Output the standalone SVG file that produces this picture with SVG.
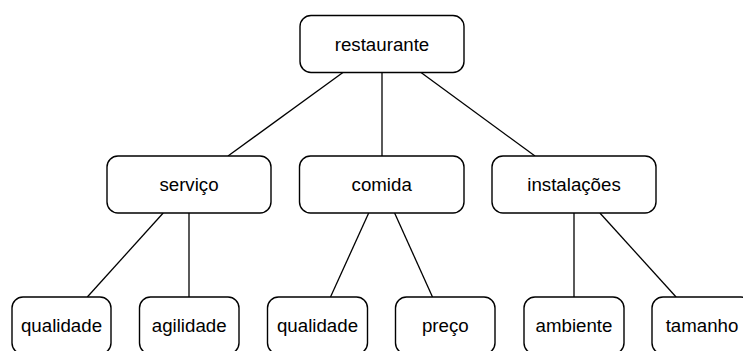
<svg xmlns="http://www.w3.org/2000/svg" width="743" height="351" viewBox="0 0 743 351">
<style>
.box{fill:#fff;stroke:#000;stroke-width:1.4}
.lbl{font-family:"Liberation Sans",Arial,sans-serif;font-size:18.7px;fill:#000;text-anchor:middle}
.edge{stroke:#000;stroke-width:1.3;fill:none}
</style>
<rect width="743" height="351" fill="#fff"/>
<g id="connectors">
<line class="edge" x1="342.9" y1="72.5" x2="228" y2="156"/>
<line class="edge" x1="382" y1="72.5" x2="382" y2="156"/>
<line class="edge" x1="421" y1="72.5" x2="535" y2="156"/>
<line class="edge" x1="163.2" y1="213" x2="87.3" y2="297"/>
<line class="edge" x1="189" y1="213" x2="189" y2="297"/>
<line class="edge" x1="368.7" y1="213" x2="330.5" y2="297"/>
<line class="edge" x1="394.6" y1="213" x2="432.5" y2="297"/>
<line class="edge" x1="574" y1="213" x2="574" y2="297"/>
<line class="edge" x1="599.9" y1="213" x2="676.1" y2="297"/>
</g>
<g id="restaurante"><rect class="box" x="300" y="15.5" width="164" height="57" rx="11"/><text class="lbl" x="382" y="50.5">restaurante</text></g>
<g id="servico"><rect class="box" x="107" y="156" width="164" height="57" rx="11"/><text class="lbl" x="189" y="190.8">serviço</text></g>
<g id="comida"><rect class="box" x="299.5" y="156" width="164.5" height="57" rx="11"/><text class="lbl" x="381.7" y="190.8">comida</text></g>
<g id="instalacoes"><rect class="box" x="492" y="156" width="164" height="57" rx="11"/><text class="lbl" x="574" y="190.8">instalações</text></g>
<g id="qualidade1"><rect class="box" x="12" y="297" width="99" height="57" rx="11"/><text class="lbl" x="61.5" y="332">qualidade</text></g>
<g id="agilidade"><rect class="box" x="139.5" y="297" width="99.5" height="57" rx="11"/><text class="lbl" x="189.2" y="332">agilidade</text></g>
<g id="qualidade2"><rect class="box" x="267.5" y="297" width="100" height="57" rx="11"/><text class="lbl" x="317.5" y="332">qualidade</text></g>
<g id="preco"><rect class="box" x="395.5" y="297" width="99.5" height="57" rx="11"/><text class="lbl" x="445.3" y="332">preço</text></g>
<g id="ambiente"><rect class="box" x="524" y="297" width="100" height="57" rx="11"/><text class="lbl" x="574" y="332">ambiente</text></g>
<g id="tamanho"><rect class="box" x="652" y="297" width="100" height="57" rx="11"/><text class="lbl" x="702" y="332">tamanho</text></g>
</svg>
